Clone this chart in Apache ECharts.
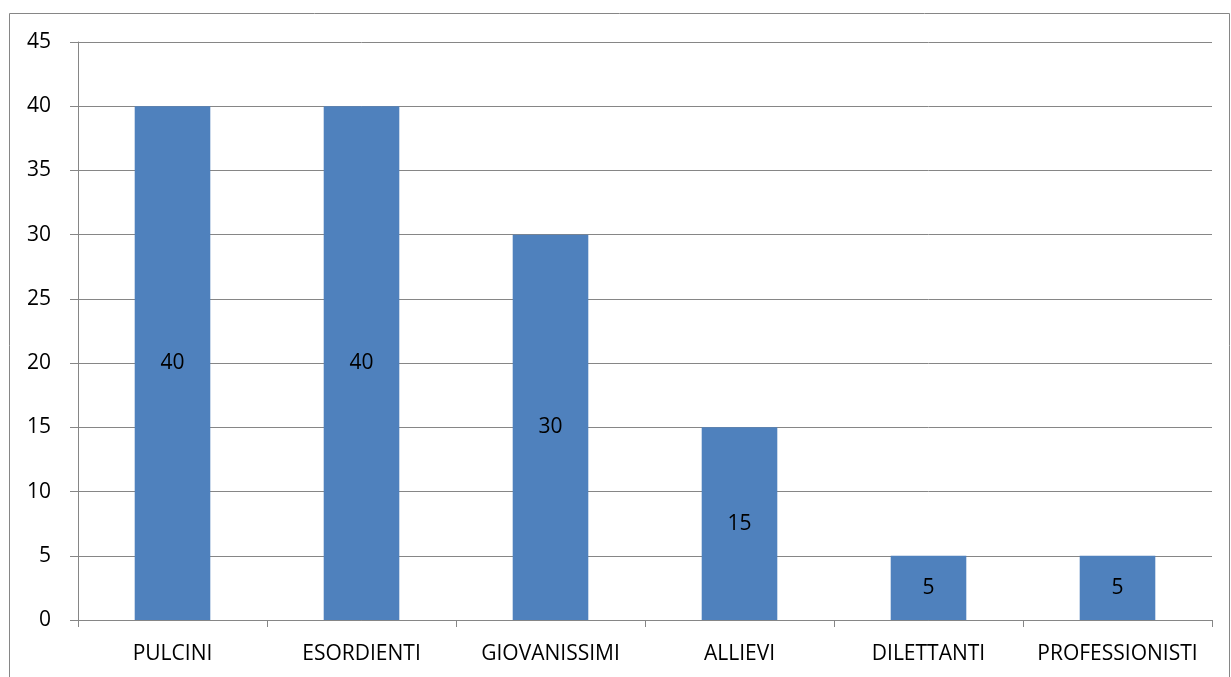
<!DOCTYPE html>
<html lang="it">
<head>
    <meta charset="UTF-8">
    <title>Categorie</title>
    <script src="https://cdn.jsdelivr.net/npm/echarts@6/dist/echarts.min.js"></script>
    <style>
        html, body { margin: 0; padding: 0; background: #fff; }
        #chart { width: 1231px; height: 677px; }
    </style>
</head>
<body>
    <div id="chart"></div>
    <script>
        // dati
        var categories = ['PULCINI', 'ESORDIENTI', 'GIOVANISSIMI', 'ALLIEVI', 'DILETTANTI', 'PROFESSIONISTI'];
        var values = [40, 40, 30, 15, 5, 5];

        var lineColor = '#868686';
        var myChart = echarts.init(document.getElementById('chart'));
        var option = {
            animation: false,
            textStyle: { fontFamily: 'Open Sans' },
            graphic: [{
                type: 'rect',
                shape: { x: 9.5, y: 13.5, width: 1220, height: 700 },
                style: { fill: 'none', stroke: lineColor, lineWidth: 1 },
                silent: true
            }],
            grid: { left: 78, right: 19, top: 42, bottom: 57 },
            xAxis: {
                type: 'category',
                data: categories,
                axisLine: { lineStyle: { color: lineColor } },
                axisTick: { show: true, interval: 0, length: 7, lineStyle: { color: lineColor } },
                axisLabel: { color: '#000', fontSize: 21, margin: 24, interval: 0 }
            },
            yAxis: {
                type: 'value',
                min: 0,
                max: 45,
                interval: 5,
                axisLine: { show: true, lineStyle: { color: lineColor } },
                axisTick: { show: true, length: 8, lineStyle: { color: lineColor } },
                splitLine: { lineStyle: { color: lineColor } },
                axisLabel: { color: '#000', fontSize: 21, margin: 27 }
            },
            series: [{
                type: 'bar',
                data: values,
                barWidth: '40%',
                itemStyle: { color: '#4F81BD' },
                label: {
                    show: true,
                    position: 'inside',
                    color: '#000',
                    fontSize: 21
                }
            }]
        };
        myChart.setOption(option);
    </script>
</body>
</html>
